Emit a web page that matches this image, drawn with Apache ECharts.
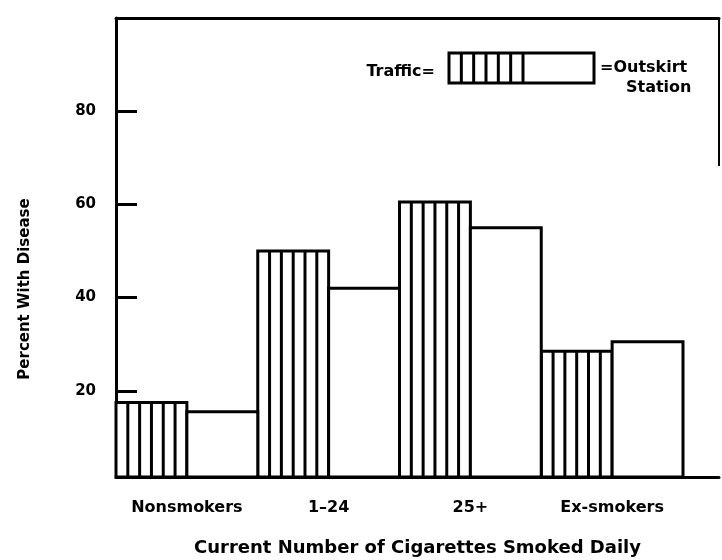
<!DOCTYPE html>
<html>
<head>
<meta charset="utf-8">
<script src="https://cdn.jsdelivr.net/npm/echarts@6/dist/echarts.min.js"></script>
<style>
  html, body { margin: 0; background: #fff; }
  #chart { width: 722px; height: 560px; }
</style>
</head>
<body>
<div id="chart"></div>
<script>
// data
const categories = ["Nonsmokers", "1\u201324", "25+", "Ex-smokers"];
const traffic = [17.5, 50, 60.5, 28.5];
const outskirt = [15.5, 42, 55, 30.5];
const yTicks = [20, 40, 60, 80];
const Y_MIN = 1.5;
const Y_MAX = 100;

const FONT = "DejaVu Sans";
const ink = "#000";

// one bar = half a category; traffic bars get vertical stripes
function barItem(side, hatched) {
  return function (params, api) {
    const cat = api.value(0);
    const top = api.coord([cat, api.value(1)]);
    const base = api.coord([cat, Y_MIN]);
    const band = api.size([1, 0])[0];
    const w = band / 2;
    const x0 = top[0] - band / 2 + side * w;
    const children = [{
      type: "rect",
      shape: { x: x0, y: top[1], width: w, height: base[1] - top[1] },
      style: { fill: "#fff", stroke: ink, lineWidth: 3 },
    }];
    if (hatched) {
      for (let i = 1; i < 6; i++) {
        const x = x0 + (i * w) / 6;
        children.push({
          type: "line",
          shape: { x1: x, y1: top[1], x2: x, y2: base[1] },
          style: { stroke: ink, lineWidth: 3 },
        });
      }
    }
    return { type: "group", children };
  };
}

const chart = echarts.init(document.getElementById("chart"));

const legendStripes = [];
for (let i = 1; i < 6; i++) {
  const x = 449 + (i * 74) / 6;
  legendStripes.push({
    type: "line",
    shape: { x1: x, y1: 53, x2: x, y2: 83 },
    style: { stroke: ink, lineWidth: 3 },
  });
}

const frameAxis = (pos) => ({
  type: "value",
  gridIndex: 1,
  position: pos,
  axisLine: { show: true, onZero: false, lineStyle: { color: ink, width: 3 } },
  axisTick: { show: false },
  axisLabel: { show: false },
  splitLine: { show: false },
});

const option = {
  backgroundColor: "#fff",
  animation: false,
  textStyle: { fontFamily: FONT, fontWeight: "bold", color: ink },
  grid: [
    { left: 116, right: 39, top: 18, bottom: 83, outerBoundsMode: "none", containLabel: false },
    { left: 116, right: 3, top: 18, bottom: 83, outerBoundsMode: "none", containLabel: false },
  ],
  xAxis: [
    {
      type: "category",
      gridIndex: 0,
      data: categories,
      axisLine: { show: false },
      axisTick: { show: false },
      axisLabel: {
        interval: 0,
        hideOverlap: false,
        margin: 23,
        fontFamily: FONT,
        fontWeight: "bold",
        fontSize: 16,
        color: ink,
      },
    },
    Object.assign(frameAxis("bottom"), {
      name: "Current Number of Cigarettes Smoked Daily",
      nameLocation: "middle",
      nameGap: 62,
      nameTextStyle: { fontFamily: FONT, fontWeight: "bold", fontSize: 18, color: ink },
    }),
    frameAxis("top"),
  ],
  yAxis: [
    {
      type: "value",
      gridIndex: 0,
      min: Y_MIN,
      max: Y_MAX,
      axisLine: { show: true, lineStyle: { color: ink, width: 3 } },
      axisTick: {
        show: true,
        inside: true,
        length: 21,
        customValues: yTicks,
        lineStyle: { color: ink, width: 3 },
      },
      axisLabel: {
        customValues: yTicks,
        margin: 20,
        fontFamily: FONT,
        fontWeight: "bold",
        fontSize: 15,
        color: ink,
      },
      splitLine: { show: false },
    },
    {
      type: "value",
      gridIndex: 1,
      show: false,
    },
  ],
  series: [
    {
      name: "Traffic",
      type: "custom",
      xAxisIndex: 0,
      yAxisIndex: 0,
      renderItem: barItem(0, true),
      encode: { x: 0, y: 1 },
      data: traffic.map((v, i) => [i, v]),
    },
    {
      name: "Outskirt Station",
      type: "custom",
      xAxisIndex: 0,
      yAxisIndex: 0,
      renderItem: barItem(1, false),
      encode: { x: 0, y: 1 },
      data: outskirt.map((v, i) => [i, v]),
    },
  ],
  graphic: [
    // right edge of the frame, only the upper part shows in the scan
    {
      type: "line",
      shape: { x1: 719, y1: 18, x2: 719, y2: 166 },
      style: { stroke: ink, lineWidth: 2 },
    },
    {
      type: "text",
      x: 25,
      y: 289,
      rotation: Math.PI / 2,
      style: {
        text: "Percent With Disease",
        font: "bold 15px " + FONT,
        fill: ink,
        textAlign: "center",
        textVerticalAlign: "middle",
      },
    },
    // legend key
    {
      type: "group",
      children: [
        {
          type: "rect",
          shape: { x: 449, y: 53, width: 145, height: 30 },
          style: { fill: "#fff", stroke: ink, lineWidth: 3 },
        },
        {
          type: "line",
          shape: { x1: 523, y1: 53, x2: 523, y2: 83 },
          style: { stroke: ink, lineWidth: 3 },
        },
      ].concat(legendStripes),
    },
    {
      type: "text",
      x: 435,
      y: 72,
      style: {
        text: "Traffic=",
        font: "bold 16px " + FONT,
        fill: ink,
        textAlign: "right",
        textVerticalAlign: "middle",
      },
    },
    {
      type: "text",
      x: 600,
      y: 68,
      style: {
        text: "=Outskirt",
        font: "bold 16px " + FONT,
        fill: ink,
        textAlign: "left",
        textVerticalAlign: "middle",
      },
    },
    {
      type: "text",
      x: 626,
      y: 88,
      style: {
        text: "Station",
        font: "bold 16px " + FONT,
        fill: ink,
        textAlign: "left",
        textVerticalAlign: "middle",
      },
    },
  ],
};

chart.setOption(option);
</script>
</body>
</html>
